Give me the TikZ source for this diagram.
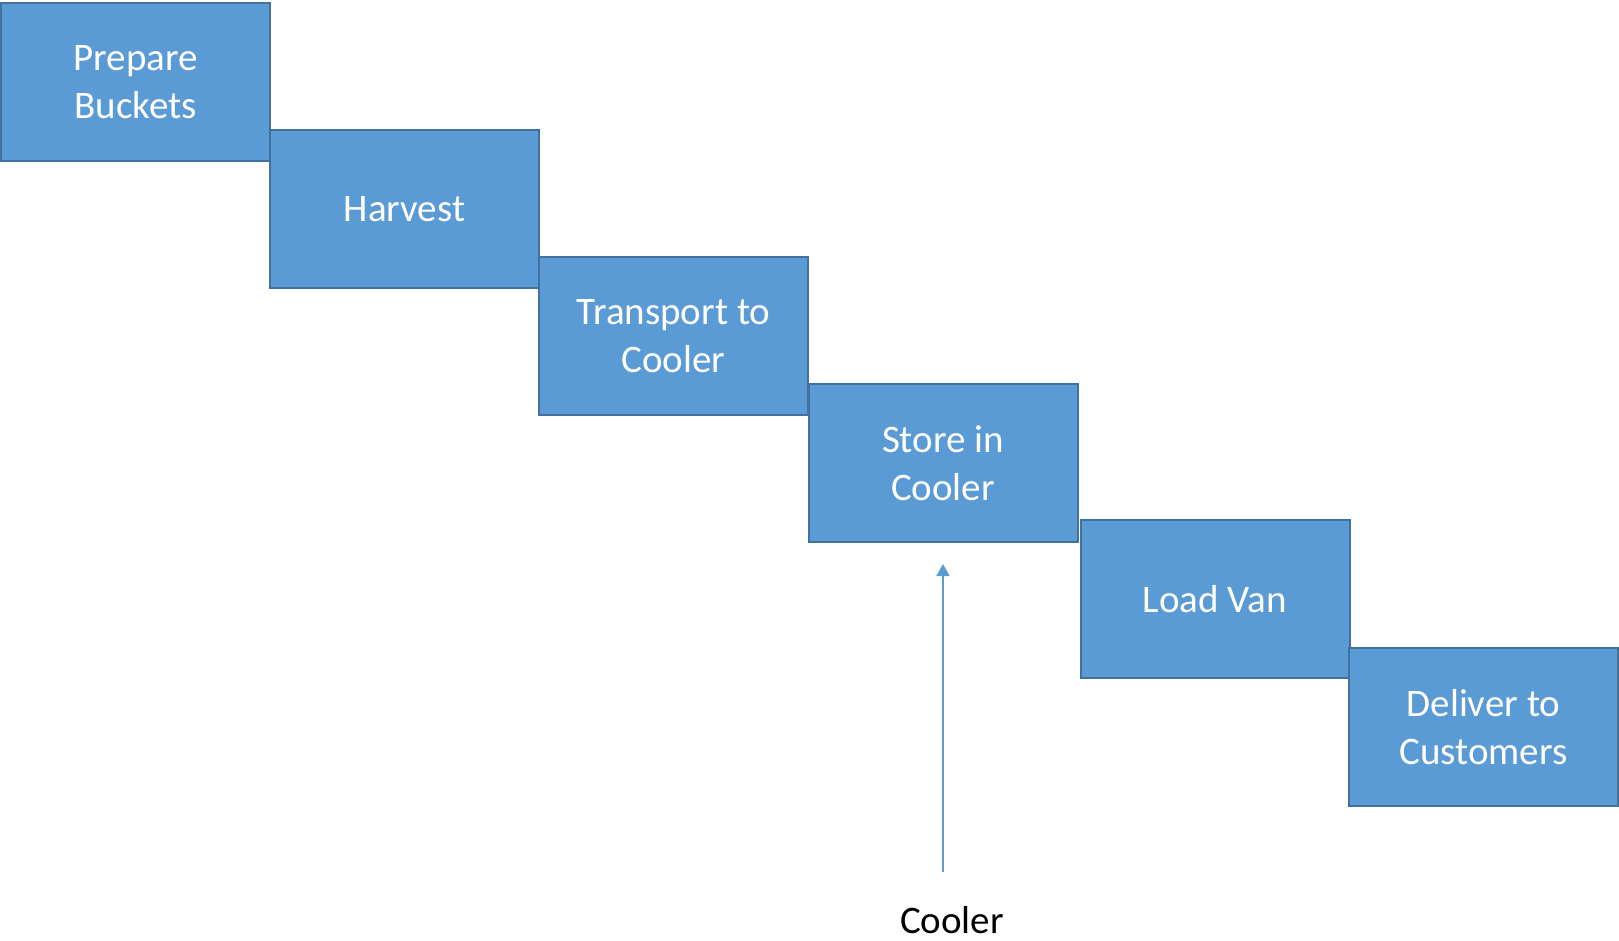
\documentclass[tikz,border=0pt]{standalone}
\usepackage{fontspec}
\setmainfont{Carlito}
\usetikzlibrary{arrows.meta}
\definecolor{stepfill}{HTML}{5B9BD5}
\definecolor{stepline}{HTML}{41719C}
\tikzset{
  stepbox/.style={draw=stepline, fill=stepfill, line width=2pt,
    minimum width=269pt, minimum height=158pt, inner sep=0pt,
    text=white, align=center, font=\fontsize{39}{47.5}\selectfont},
  inputarrow/.style={draw=stepfill, line width=1.5pt,
    -{Triangle[width=13pt,length=12pt]}},
  inputlabel/.style={text=black, font=\fontsize{39}{47.5}\selectfont}
}
\begin{document}
\begin{tikzpicture}[x=1pt,y=-1pt]
  \useasboundingbox (0,0) rectangle (1619,940);
  % staircase of process steps
  \node[stepbox] (b1) at (135.5,82)  {Prepare\\Buckets};
  \node[stepbox] (b2) at (404.5,209) {Harvest};
  \node[stepbox] (b3) at (673.5,336) {Transport to\\Cooler};
  \node[stepbox] (b4) at (943,463)   {Store in\\Cooler};
  \node[stepbox] (b5) at (1215,599)  {Load Van};
  \node[stepbox] (b6) at (1483.5,727) {Deliver to\\Customers};
  % input feeding the storage step
  \node[inputlabel] (cooler) at (952,920) {Cooler};
  \coordinate (tail) at (943,872);
  \draw[inputarrow, shorten >=21pt] (tail) -- (b4.south);
\end{tikzpicture}
\end{document}
